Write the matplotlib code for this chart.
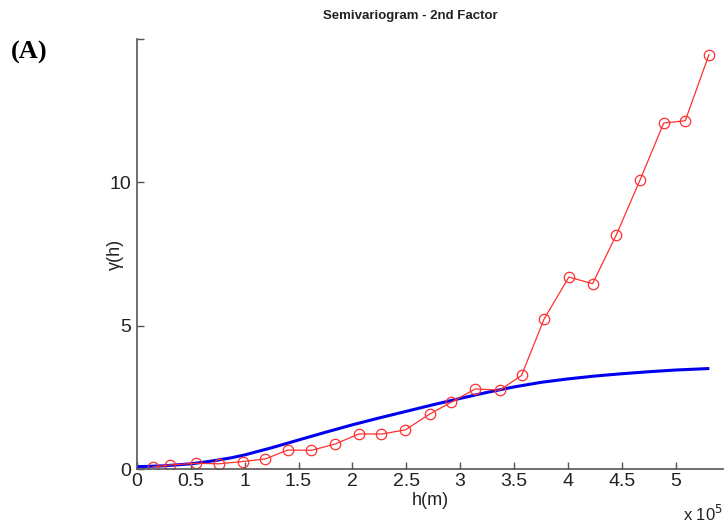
import matplotlib.pyplot as plt
import numpy as np

# experimental semivariogram (lag in units of 1e5 m)
lag = [0.15, 0.31, 0.55, 0.76, 0.98, 1.19, 1.40, 1.62, 1.84, 2.06, 2.27, 2.49, 2.72,
       2.92, 3.14, 3.37, 3.57, 3.78, 4.01, 4.23, 4.45, 4.67, 4.89, 5.09, 5.31]
gamma = [0.08, 0.15, 0.21, 0.19, 0.27, 0.36, 0.67, 0.66, 0.88, 1.23, 1.23, 1.37, 1.93,
         2.34, 2.80, 2.76, 3.27, 5.24, 6.70, 6.47, 8.17, 10.08, 12.07, 12.15, 14.45]

# fitted model curve
model_h = [0.0, 0.25, 0.5, 0.625, 0.75, 0.875, 1.0, 1.25, 1.5, 1.75, 2.0, 2.25, 2.5, 2.75,
           3.0, 3.25, 3.5, 3.75, 4.0, 4.25, 4.5, 4.75, 5.0, 5.3]
model_g = [0.09, 0.12, 0.19, 0.25, 0.32, 0.40, 0.50, 0.75, 1.02, 1.29, 1.55, 1.79, 2.02, 2.25,
           2.47, 2.68, 2.87, 3.03, 3.15, 3.25, 3.33, 3.40, 3.46, 3.51]

xticks = [0, 0.5, 1, 1.5, 2, 2.5, 3, 3.5, 4, 4.5, 5]
xticklabels = ['0', '0.5', '1', '1.5', '2', '2.5', '3', '3.5', '4', '4.5', '5']
yticks = [0, 5, 10, 15]
yticklabels = ['0', '5', '10', '']

plt.rcParams['font.family'] = ['Liberation Sans', 'DejaVu Sans']

fig = plt.figure(figsize=(7.27, 5.29), dpi=100)
ax = fig.add_axes([0.1884, 0.1129, 0.806, 0.8134])

ax.plot(model_h, model_g, color='#0000ee', linewidth=2.2)
ax.plot(lag, gamma, color='#ff3030', linewidth=0.9, marker='o', markersize=7.5,
        markerfacecolor='none', markeredgecolor='#ff3030', markeredgewidth=0.9)

ax.set_xlim(0, 5.44)
ax.set_ylim(0, 15)
ax.set_xticks(xticks)
ax.set_xticklabels(xticklabels)
ax.set_yticks(yticks)
ax.set_yticklabels(yticklabels)

for s in ['top', 'right']:
    ax.spines[s].set_visible(False)
for s in ['left', 'bottom']:
    ax.spines[s].set_color('#555555')
    ax.spines[s].set_linewidth(1.2)
ax.tick_params(direction='in', length=5, width=1, color='#555555',
               labelsize=14, labelcolor='#222222')
ax.tick_params(axis='x', pad=3)
ax.tick_params(axis='y', pad=4)

ax.set_xlabel('h(m)', fontsize=13, color='#222222', labelpad=1)
ax.set_ylabel('γ(h)', fontsize=13, color='#222222', labelpad=-10)

fig.text(0.94, 0.015, r'x 10$^5$', fontsize=12, color='#222222')
fig.text(0.565, 0.965, 'Semivariogram - 2nd Factor', fontsize=9.5, fontweight='bold',
         ha='center', color='#222222')
fig.text(0.015, 0.89, '(A)', fontsize=19, fontweight='bold',
         family=['Liberation Serif', 'DejaVu Serif'])

fig.savefig('out.png', dpi=100)
